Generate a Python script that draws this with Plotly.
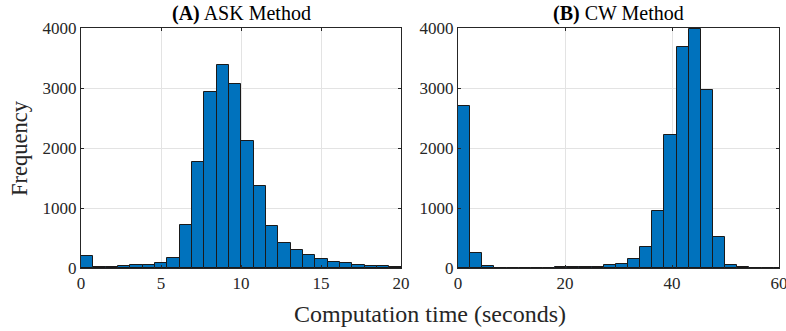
import numpy as np
import plotly.graph_objects as go

# ---- data ----
ask_bin_width = 0.771
ask_counts = [200, 11, 22, 33, 50, 52, 78, 168, 711, 1768, 2935, 3386, 3063, 2124,
              1368, 700, 425, 300, 217, 150, 108, 83, 50, 39, 28, 17]
cw_bin_width = 2.27
cw_counts = [2700, 250, 33, 8, 5, 5, 6, 8, 10, 12, 14, 16, 45, 68, 158, 346, 957,
             2222, 3685, 3980, 2965, 511, 50, 17, 6, 4, 3]
titles = ["<b>(A)</b> ASK Method", "<b>(B)</b> CW Method"]
y_ticks = [0, 1000, 2000, 3000, 4000]
ask_x_ticks = [0, 5, 10, 15, 20]
cw_x_ticks = [0, 20, 40, 60]
x_label = "Computation time (seconds)"
y_label = "Frequency"

FONT = "Liberation Serif"
BAR_COLOR = "#0072BD"
AX_COLOR = "#262626"
GRID = "#e3e3e3"
W, H = 786, 331

ask_x = (np.arange(len(ask_counts)) + 0.5) * ask_bin_width
cw_x = (np.arange(len(cw_counts)) + 0.5) * cw_bin_width

fig = go.Figure()
fig.add_trace(go.Bar(x=ask_x, y=ask_counts, width=ask_bin_width,
                     marker=dict(color=BAR_COLOR, line=dict(color="#1a1a1a", width=1)),
                     xaxis="x", yaxis="y", showlegend=False))
fig.add_trace(go.Bar(x=cw_x, y=cw_counts, width=cw_bin_width,
                     marker=dict(color=BAR_COLOR, line=dict(color="#1a1a1a", width=1)),
                     xaxis="x2", yaxis="y2", showlegend=False))

def px_x(a, b):
    return [a / W, b / W]

ydom = [1 - 268 / H, 1 - 28 / H]
axis_common = dict(showline=True, linecolor=AX_COLOR, linewidth=1, mirror="ticks",
                   ticks="inside", ticklen=3, tickcolor=AX_COLOR, automargin=False,
                   showgrid=True, gridcolor=GRID, gridwidth=1, zeroline=False,
                   ticklabeloverflow="allow",
                   tickfont=dict(family=FONT, size=17, color=AX_COLOR))

def ann(text, x, y, size, color="#000", angle=0):
    return dict(text=text, x=x / W, y=1 - y / H, xref="paper", yref="paper",
                xanchor="center", yanchor="middle", showarrow=False, textangle=angle,
                font=dict(family=FONT, size=size, color=color))

fig.update_layout(
    template="none",
    width=W, height=H,
    margin=dict(l=0, r=0, t=0, b=0),
    paper_bgcolor="white", plot_bgcolor="white",
    bargap=0,
    xaxis=dict(domain=px_x(81, 401), range=[0, 20], tickvals=ask_x_ticks, anchor="y", **axis_common),
    yaxis=dict(domain=ydom, range=[0, 4000], tickvals=y_ticks, anchor="x", **axis_common),
    xaxis2=dict(domain=px_x(458, 779), range=[0, 60], tickvals=cw_x_ticks, anchor="y2", **axis_common),
    yaxis2=dict(domain=ydom, range=[0, 4000], tickvals=y_ticks, anchor="x2", **axis_common),
    annotations=[
        ann(titles[0], (81 + 401) / 2, 14, 20),
        ann(titles[1], (458 + 779) / 2, 14, 20),
        ann(x_label, 430, 314, 24, "#262626"),
        ann(y_label, 19, 148, 22.5, "#262626", -90),
    ],
)

fig.write_html("out.html", config={"displayModeBar": False},
               post_script="document.body.style.margin='0';document.body.style.overflow='hidden';")
